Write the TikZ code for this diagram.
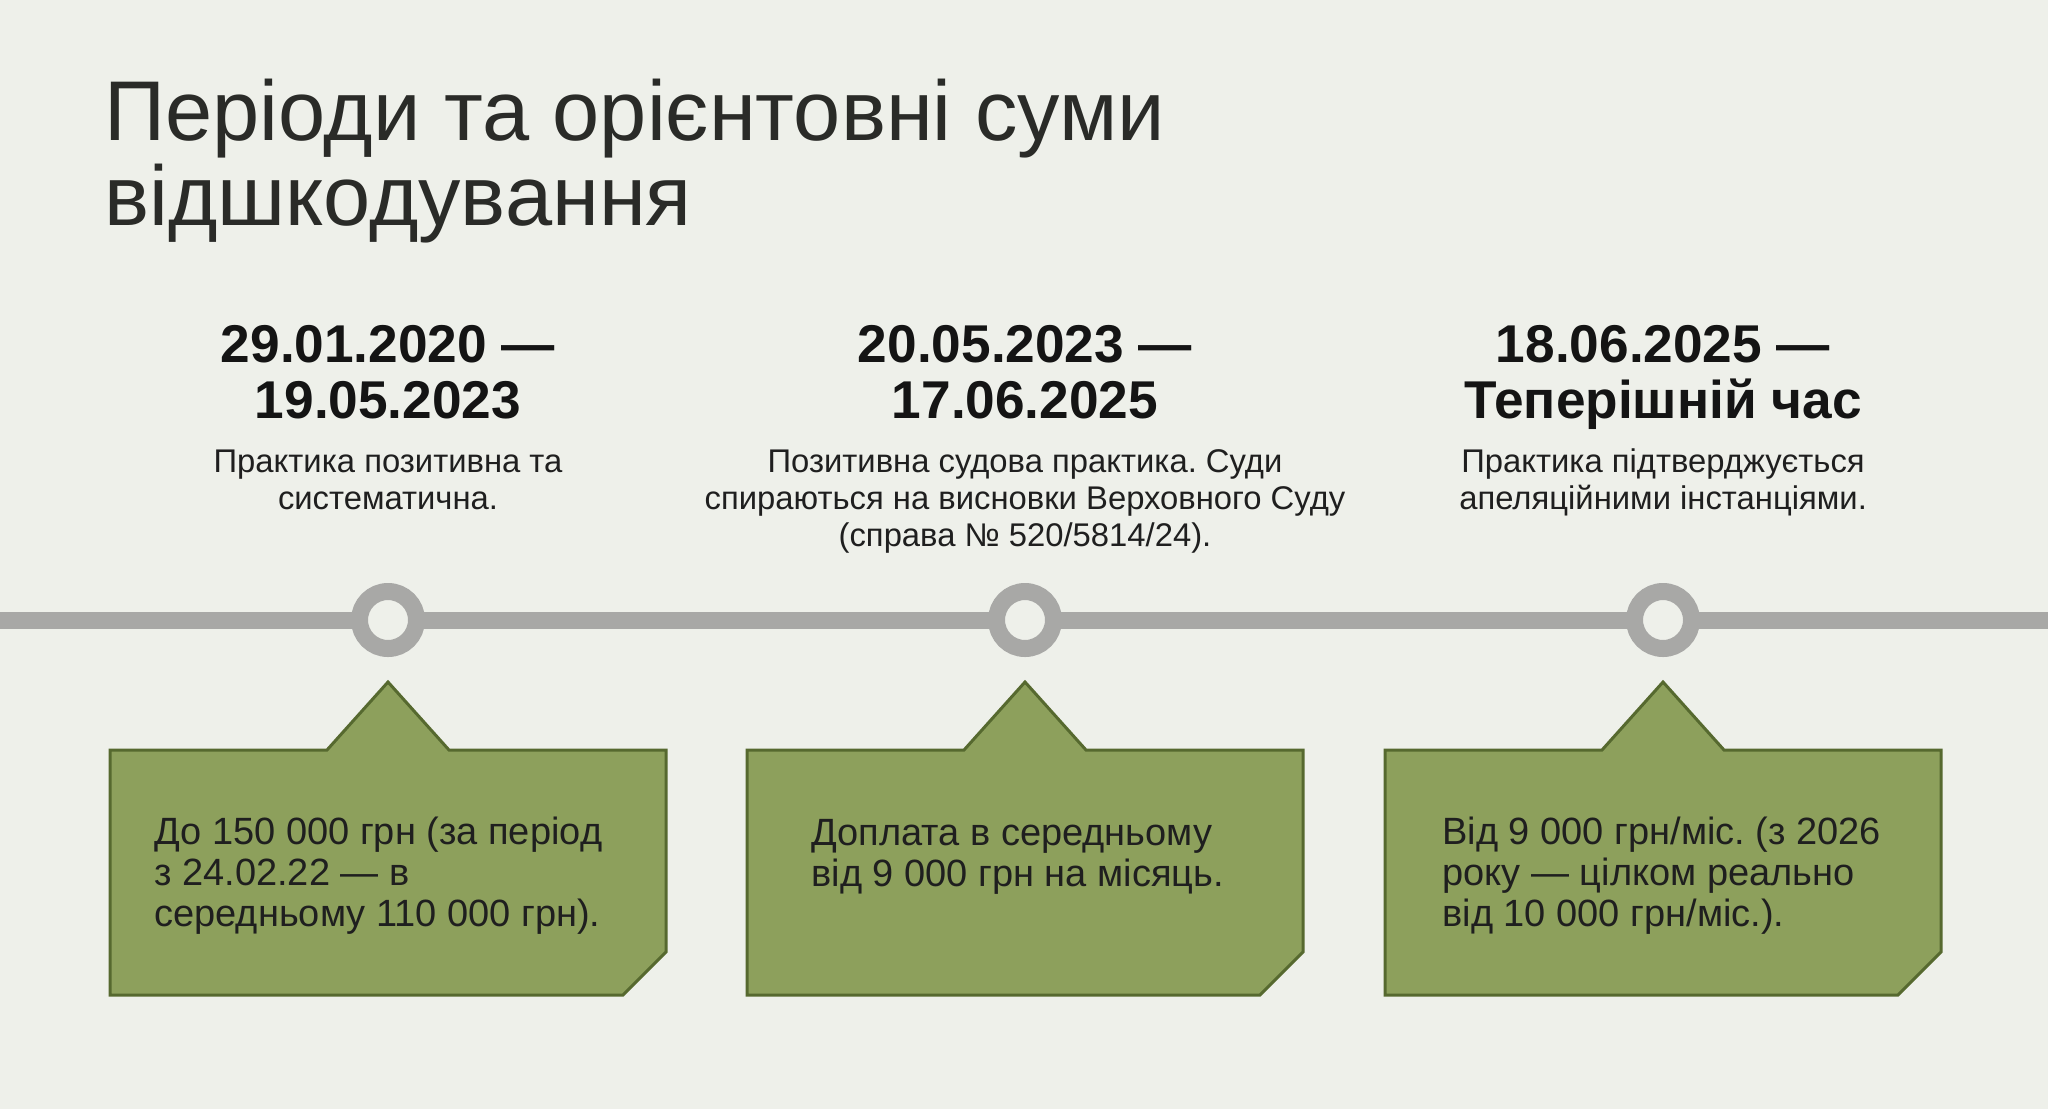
\documentclass[tikz,border=0pt]{standalone}
\usepackage{fontspec}
\setmainfont{Liberation Sans}
\frenchspacing
\definecolor{bg}{HTML}{EEF0EA}
\definecolor{linegray}{HTML}{A8A8A6}
\definecolor{boxgreen}{HTML}{8DA05C}
\definecolor{boxedge}{HTML}{56692F}
\definecolor{inkdark}{HTML}{2A2B28}
\tikzset{
  titletext/.style={font=\fontsize{42.4}{42.5}\selectfont, align=left, anchor=base west, text=inkdark, inner sep=0},
  datetext/.style={font=\fontsize{26.6}{28}\selectfont\bfseries, align=center, anchor=base, text=black!92, inner sep=0},
  desctext/.style={font=\fontsize{16.4}{18.3}\selectfont, align=center, anchor=base, text=black!88, inner sep=0},
  sumtext/.style={font=\fontsize{19}{20.3}\selectfont, align=left, anchor=base west, text=black!88, inner sep=0},
  dot/.style={circle, minimum size=28.5pt, inner sep=0, draw=linegray, line width=8.5pt, fill=bg},
  callout/.style={fill=boxgreen, draw=boxedge, line width=1.5pt, line join=miter},
}
\begin{document}
\begin{tikzpicture}[x=0.5pt,y=-0.5pt]
\fill[bg] (0,0) rectangle (2048,1109);
\useasboundingbox (0,0) rectangle (2048,1109);
\pgfmathsetmacro{\ca}{388};
\pgfmathsetmacro{\cb}{1025};
\pgfmathsetmacro{\cc}{1663};
%anchor=base sits on the last line
\node[titletext] (title) at (104,225) {Періоди та орієнтовні суми\\відшкодування};
%timeline
\coordinate (lineL) at (0,620);
\coordinate (lineR) at (2048,620);
\draw[linegray, line width=8.5pt] (lineL)--(lineR);
\node[dot] (dot1) at (\ca,620) {};
\node[dot] (dot2) at (\cb,620) {};
\node[dot] (dot3) at (\cc,620) {};
%callouts
\foreach \cx in {\ca,\cb,\cc}
  \draw[callout] (\cx-278,750)--(\cx-61,750)--(\cx,682)--(\cx+61,750)--(\cx+278,750)
    --(\cx+278,952)--(\cx+235,995)--(\cx-278,995)--cycle;
\node[datetext] (date1) at (\ca,418) {29.01.2020 —\\19.05.2023};
\node[datetext] (date2) at (\cb,418) {20.05.2023 —\\17.06.2025};
\node[datetext] (date3) at (\cc,418) {18.06.2025 —\\Теперішній час};
\node[desctext] (desc1) at (\ca,509) {Практика позитивна та\\систематична.};
\node[desctext] (desc2) at (\cb,546) {Позитивна судова практика. Суди\\спираються на висновки Верховного Суду\\(справа № 520/5814/24).};
\node[desctext] (desc3) at (\cc,509) {Практика підтверджується\\апеляційними інстанціями.};
\node[sumtext] (sum1) at (154,926) {До 150 000 грн (за період\\з 24.02.22 — в\\середньому 110 000 грн).};
\node[sumtext] (sum2) at (811,886) {Доплата в середньому\\від 9 000 грн на місяць.};
\node[sumtext] (sum3) at (1442,926) {Від 9 000 грн/міс. (з 2026\\року — цілком реально\\від 10 000 грн/міс.).};
\end{tikzpicture}
\end{document}
